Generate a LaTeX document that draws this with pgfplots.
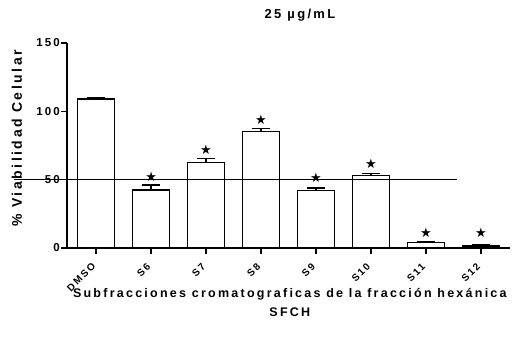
\documentclass[border=0pt]{standalone}
\usepackage{pgfplots}
\pgfplotsset{compat=1.18}
\usepackage{fontspec}
\setmainfont{Liberation Sans}
\newfontfamily\lsf[LetterSpace=18]{Liberation Sans}
\newfontfamily\symf{DejaVu Sans}
\begin{document}
\begin{tikzpicture}
\path[use as bounding box] (-67pt,-101pt) rectangle (448pt,248pt);
\begin{axis}[at={(0,0)}, anchor=south west, scale only axis,
  width=443pt, height=205pt,
  xmin=-0.53, xmax=7.53, ymin=0, ymax=150,
  axis lines*=left, axis line style={line width=1.4pt},
  clip=false,
  ytick={0,50,100,150},
  xtick={0,...,7},
  xticklabels={DMSO,S6,S7,S8,S9,S10,S11,S12},
  tick align=outside, major tick length=6pt,
  tick style={line width=1.4pt, black},
  xticklabel style={xshift=-5pt, yshift=-1pt, rotate=45, anchor=north east, font=\lsf\bfseries\fontsize{10}{11}\selectfont, inner sep=5pt},
  yticklabel style={font=\lsf\bfseries\fontsize{11.5}{12}\selectfont, inner sep=1pt},
  /pgf/number format/assume math mode=true,
  ylabel={\% Viabilidad Celular},
  ylabel style={at={(axis description cs:-0.113,0.535)}, anchor=center, font=\lsf\bfseries\fontsize{14}{15}\selectfont},
  xlabel={Subfracciones cromatograficas de la fracción hexánica\\SFCH},
  xlabel style={at={(axis description cs:0.503,0)}, anchor=north, yshift=-37pt, align=center, font=\lsf\bfseries\fontsize{12.5}{19}\selectfont},
  title={25 µg/mL},
  title style={at={(axis description cs:0.526,1)}, anchor=center, yshift=22pt, font=\lsf\bfseries\fontsize{13}{14}\selectfont},
]
\addplot[ybar, bar width=0.67, bar shift=0pt, fill=white, draw=black, line width=1.3pt,
  error bars/.cd, y dir=plus, y explicit,
  error bar style={line width=1.3pt},
  error mark options={line width=1.3pt, mark size=9pt, rotate=90}]
  table[x=x, y=y, y error plus=e] {
x y e
0 109 1
1 42.5 3.5
2 62.5 3
3 85 2.5
4 42 2
5 53 1.5
6 4.2 0.8
7 1.5 1
};
\addplot[only marks, mark=text, text mark={\symf\fontsize{13}{13}\selectfont ★}]
  coordinates {(1,52) (2,72) (3,94) (4,51.5) (5,61.5) (6,11) (7,11)};
\addplot[black, line width=1.3pt] coordinates {(-1.5,50) (6.56,50)};
\end{axis}
\end{tikzpicture}
\end{document}
